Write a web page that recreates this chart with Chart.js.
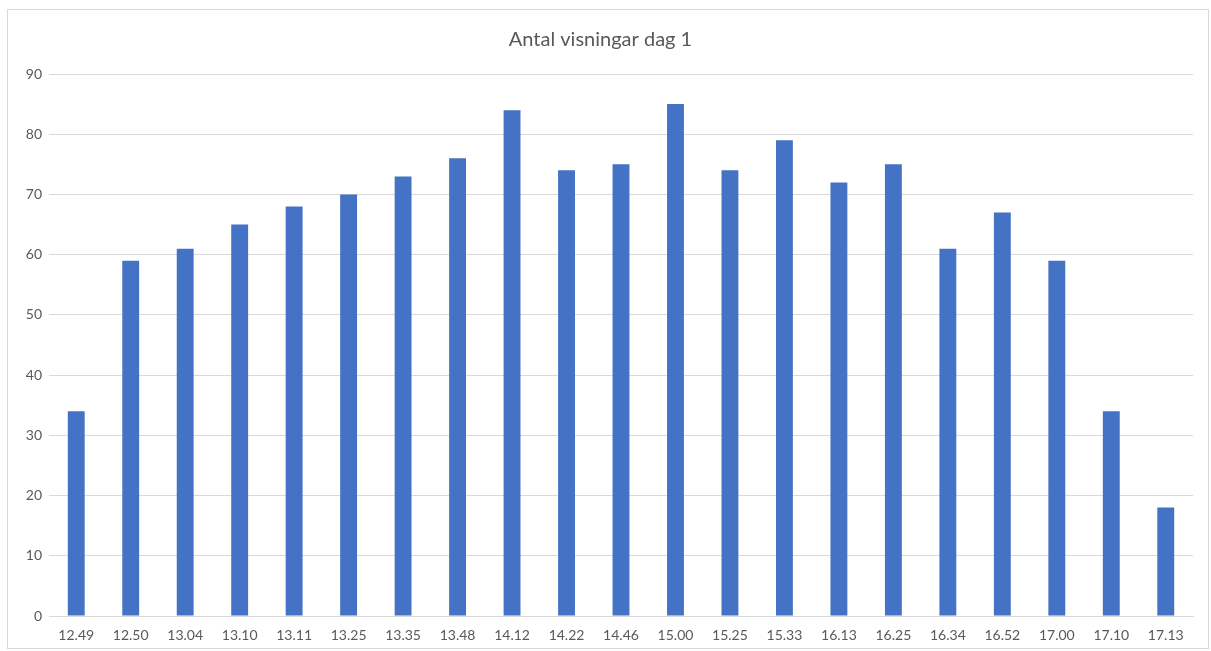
<!DOCTYPE html>
<html>
<head>
<meta charset="utf-8">
<script src="https://cdn.jsdelivr.net/npm/chart.js@4"></script>
<style>
    body { margin: 0; background: #fff; }
    #box {
        position: absolute;
        left: 7px;
        top: 9px;
        width: 1200px;
        height: 638px;
        border: 1px solid #d9d9d9;
    }
</style>
</head>
<body>
<div id="box"><canvas id="graphCanvas" width="1200" height="638"></canvas></div>
<script>
const times = ['12.49', '12.50', '13.04', '13.10', '13.11', '13.25', '13.35', '13.48', '14.12', '14.22', '14.46',
    '15.00', '15.25', '15.33', '16.13', '16.25', '16.34', '16.52', '17.00', '17.10', '17.13'];
const views = [34, 59, 61, 65, 68, 70, 73, 76, 84, 74, 75, 85, 74, 79, 72, 75, 61, 67, 59, 34, 18];
const yTicks = [0, 10, 20, 30, 40, 50, 60, 70, 80, 90];

const textColor = '#595959';
const gridColor = '#d9d9d9';

const ctx = document.getElementById('graphCanvas').getContext('2d');
const chart = new Chart(ctx, {
    type: 'bar',
    data: {
        labels: times,
        datasets: [{
            label: 'Antal visningar',
            data: views,
            backgroundColor: '#4472c4',
            borderWidth: 0,
            barPercentage: 0.31,
            categoryPercentage: 1,
        }]
    },
    options: {
        responsive: false,
        animation: false,
        layout: {
            padding: { left: 0, right: 15, top: 0, bottom: 0 }
        },
        scales: {
            x: {
                afterFit: function (scale) {
                    scale.height = 32;
                },
                grid: { display: false, drawTicks: false },
                border: { display: true, color: gridColor, width: 1 },
                ticks: {
                    color: textColor,
                    font: { family: 'Lato', size: 14 },
                    padding: 11,
                    maxRotation: 0,
                    autoSkip: false,
                }
            },
            y: {
                min: 0,
                max: 90,
                afterFit: function (scale) {
                    scale.width = 41;
                },
                afterBuildTicks: function (scale) {
                    scale.ticks = yTicks.map(v => ({ value: v }));
                },
                grid: { color: gridColor, drawTicks: false },
                border: { display: false },
                ticks: {
                    color: textColor,
                    font: { family: 'Lato', size: 14 },
                    padding: 7,
                }
            }
        },
        plugins: {
            legend: { display: false },
            tooltip: { enabled: false },
            title: {
                display: true,
                text: 'Antal visningar dag 1',
                color: textColor,
                font: { family: 'Lato', size: 20, weight: 'normal' },
                padding: { top: 18, bottom: 22 }
            }
        }
    }
});
</script>
</body>
</html>
